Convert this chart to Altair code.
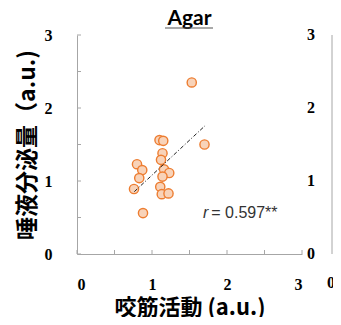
import altair as alt
import pandas as pd

# data
x_vals = [1.53, 1.10, 1.15, 1.70, 1.14, 1.12, 0.80, 0.87, 1.16, 1.23, 0.83, 1.14, 0.76, 1.11, 1.13, 1.22, 0.88]
y_vals = [2.35, 1.56, 1.55, 1.50, 1.38, 1.29, 1.23, 1.15, 1.16, 1.11, 1.04, 1.06, 0.89, 0.92, 0.82, 0.83, 0.56]
fit_x = [0.764, 1.707]
fit_y = [0.854, 1.757]
tick_vals = [0, 0.5, 1, 1.5, 2, 2.5, 3]
label_vals = [0, 1, 2, 3]
title_text = "Agar"
x_title = "咬筋活動 (a.u.)"
y_title = "唾液分泌量（a.u.)"
r_sym = "r"
r_text = "= 0.597**"

W, H = 225, 219
AXC = "#a6a6a6"
pts = pd.DataFrame({"x": x_vals, "y": y_vals})
fit = pd.DataFrame({"x": fit_x, "y": fit_y})
ticks = pd.DataFrame({"v": tick_vals})
labs = pd.DataFrame({"v": label_vals})

xs = alt.Scale(domain=[0, 3], nice=False, zero=False)
ys = alt.Scale(domain=[0, 3], nice=False, zero=False)

points = alt.Chart(pts).mark_point(
    shape="circle", filled=True, size=85, fill="#F8D3B9", stroke="#ED7D31",
    strokeWidth=1.4, opacity=1
).encode(
    x=alt.X("x:Q", scale=xs, title=x_title,
            axis=alt.Axis(values=label_vals, format="d", tickSize=0, labelPadding=22,
                          titlePadding=5, titleFontSize=22, domainColor=AXC)),
    y=alt.Y("y:Q", scale=ys, title=y_title,
            axis=alt.Axis(values=label_vals, format="d", tickSize=0, labelPadding=25,
                          titlePadding=5, titleFontSize=23, domainColor=AXC)),
)

fit_line = alt.Chart(fit).mark_line(color="#222", strokeWidth=1,
                                    strokeDash=[4, 2, 1, 2]).encode(
    x=alt.X("x:Q", scale=xs), y=alt.Y("y:Q", scale=ys))

xticks = alt.Chart(ticks).mark_rule(color=AXC).encode(
    x=alt.X("v:Q", scale=xs), y=alt.value(H), y2=alt.value(H - 4))
yticks = alt.Chart(ticks).mark_rule(color=AXC).encode(
    y=alt.Y("v:Q", scale=ys), x=alt.value(0), x2=alt.value(4))

right_labels = alt.Chart(labs).mark_text(
    font="Liberation Serif", fontWeight="bold", fontSize=16, align="left",
    baseline="middle", color="#000").encode(
    y=alt.Y("v:Q", scale=ys), x=alt.value(W + 5), text=alt.Text("v:Q", format="d"))

neighbor_line = alt.Chart(pd.DataFrame({"a": [0]})).mark_rule(color=AXC).encode(
    x=alt.value(255), y=alt.value(0), y2=alt.value(H))
neighbor_zero = alt.Chart(pd.DataFrame({"a": ["0"]})).mark_text(
    font="Liberation Serif", fontWeight="bold", fontSize=16, align="left",
    baseline="middle", color="#000").encode(x=alt.value(250), y=alt.value(29 + H), text="a:N")

r_label = alt.Chart(pd.DataFrame({"x": [1.68], "y": [0.56], "t": [r_sym]})).mark_text(
    font="Liberation Sans", fontStyle="italic", fontSize=16, align="left",
    baseline="middle", color="#333").encode(
    x=alt.X("x:Q", scale=xs), y=alt.Y("y:Q", scale=ys), text="t:N")
r_val = alt.Chart(pd.DataFrame({"x": [1.79], "y": [0.56], "t": [r_text]})).mark_text(
    font="Liberation Sans", fontSize=16, align="left",
    baseline="middle", color="#333").encode(
    x=alt.X("x:Q", scale=xs), y=alt.Y("y:Q", scale=ys), text="t:N")

title_mark = alt.Chart(pd.DataFrame({"t": [title_text]})).mark_text(
    font="Lato", fontSize=21, fontWeight="bold", align="center", baseline="alphabetic",
    color="#000").encode(x=alt.value(W / 2), y=alt.value(-10), text="t:N")

underline = alt.Chart(pd.DataFrame({"a": [0]})).mark_rule(color="#555", strokeWidth=1.2).encode(
    x=alt.value(88), x2=alt.value(136), y=alt.value(-7))

chart = alt.layer(
    points, xticks, yticks, fit_line, right_labels, r_label, r_val,
    neighbor_line, neighbor_zero, title_mark, underline
).properties(
    width=W, height=H,
    autosize=alt.AutoSizeParams(type="none"),
    padding={"left": 69, "top": 27, "right": 31, "bottom": 63},
).configure_view(stroke=None).configure_axis(
    grid=False, labelFont="Liberation Serif", labelFontWeight="bold", labelFontSize=16,
    labelColor="#000", titleFont="Noto Sans CJK JP", titleFontWeight="bold",
    titleColor="#000", domainWidth=1
)

chart.save("out.html", embed_options={"renderer": "svg", "actions": False})
